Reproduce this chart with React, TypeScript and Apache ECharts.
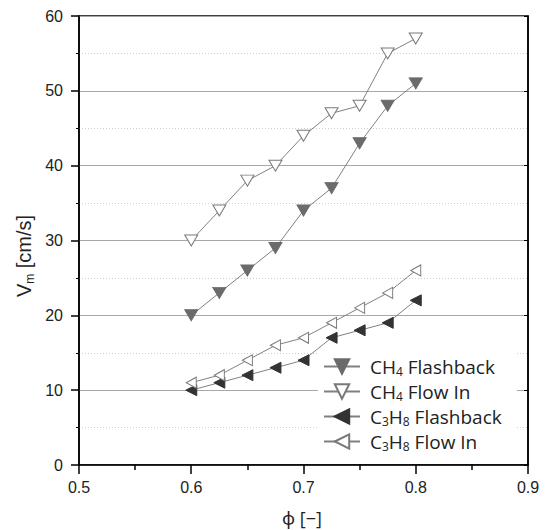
import React, { useEffect, useRef } from "react";
import * as echarts from "echarts";

const phi = [0.6, 0.625, 0.65, 0.675, 0.7, 0.725, 0.75, 0.775, 0.8];
const ch4Flashback = [20, 23, 26, 29, 34, 37, 43, 48, 51];
const ch4FlowIn = [30, 34, 38, 40, 44, 47, 48, 55, 57];
const c3h8Flashback = [10, 11, 12, 13, 14, 17, 18, 19, 22];
const c3h8FlowIn = [11, 12, 14, 16, 17, 19, 21, 23, 26];
const seriesNames = ["CH4 Flashback", "CH4 Flow In", "C3H8 Flashback", "C3H8 Flow In"];
const legendLabels: Record<string, string> = {
  "CH4 Flashback": "{t|CH}{s|4}{t| Flashback}",
  "CH4 Flow In": "{t|CH}{s|4}{t| Flow In}",
  "C3H8 Flashback": "{t|C}{s|3}{t|H}{s|8}{t| Flashback}",
  "C3H8 Flow In": "{t|C}{s|3}{t|H}{s|8}{t| Flow In}",
};

const pairs = (ys: number[]) => phi.map((x, i) => [x, ys[i]]);

export default function App() {
  const ref = useRef<HTMLDivElement>(null);
  useEffect(() => {
    if (!ref.current) return;
    const chart = echarts.init(ref.current, null, { renderer: "svg" });
    const lineStyle = { color: "#808080", width: 1 };
    const tickFont = { fontFamily: "Liberation Sans, Arial, sans-serif", fontSize: 16, color: "#222" };
    const legendFont = "Open Sans, Noto Sans, sans-serif";
    chart.setOption({
      animation: false,
      backgroundColor: "#fff",
      grid: { left: 79, right: 19, top: 16, bottom: 65, show: true, borderColor: "#000", borderWidth: 1.5, backgroundColor: "transparent" },
      xAxis: {
        type: "value",
        min: 0.5,
        max: 0.9,
        interval: 0.1,
        axisLine: { lineStyle: { color: "#000", width: 1.5 } },
        axisTick: { show: true, length: 9, lineStyle: { color: "#000", width: 1.5 } },
        minorTick: { show: true, splitNumber: 2, length: 5, lineStyle: { color: "#000", width: 1.5 } },
        splitLine: { show: false },
        axisLabel: { ...tickFont, margin: 14, formatter: (v: number) => v.toFixed(1) },
      },
      yAxis: [
        {
          type: "value",
          min: 0,
          max: 60,
          interval: 10,
          axisLine: { show: true, lineStyle: { color: "#000", width: 1.5 } },
          axisTick: { show: true, length: 8, lineStyle: { color: "#000", width: 1.5 } },
          minorTick: { show: true, splitNumber: 2, length: 3, lineStyle: { color: "#000", width: 1 } },
          splitLine: { show: true, lineStyle: { color: "#a8a8a8", width: 1 } },
          minorSplitLine: { show: true, lineStyle: { color: "#cfcfcf", width: 1, type: [1, 2] } },
          axisLabel: { ...tickFont, margin: 16 },
        },
        {
          type: "value",
          position: "right",
          min: 0,
          max: 60,
          interval: 10,
          axisLine: { show: true, lineStyle: { color: "#000", width: 1.5 } },
          axisTick: { show: true, inside: true, length: 4, lineStyle: { color: "#000", width: 1 } },
          axisLabel: { show: false },
          splitLine: { show: false },
        },
      ],
      legend: {
        orient: "vertical",
        left: 318,
        top: 352,
        padding: [5, 15, 5, 5],
        backgroundColor: "#fff",
        itemWidth: 36,
        itemHeight: 18,
        itemGap: 5,
        data: seriesNames,
        formatter: (name: string) => legendLabels[name],
        textStyle: {
          color: "#222",
          fontFamily: legendFont,
          fontSize: 19,
          padding: [0, 0, 0, 5],
          rich: {
            t: { fontFamily: legendFont, fontSize: 19, lineHeight: 21, color: "#222" },
            s: { fontFamily: legendFont, fontSize: 12, lineHeight: 12, verticalAlign: "bottom", color: "#222" },
          },
        },
      },
      graphic: [
        {
          type: "text",
          x: 24,
          y: 256,
          rotation: Math.PI / 2,
          style: {
            text: "{v|V}{s|m}{v| [cm/s]}",
            align: "center",
            verticalAlign: "middle",
            rich: {
              v: { fontFamily: "Liberation Sans, Arial, sans-serif", fontSize: 20, lineHeight: 24, fill: "#222" },
              s: { fontFamily: "Liberation Sans, Arial, sans-serif", fontSize: 12, lineHeight: 12, verticalAlign: "bottom", fill: "#222" },
            },
          },
        },
        {
          type: "text",
          x: 302,
          y: 518,
          style: {
            text: "ϕ [−]",
            align: "center",
            verticalAlign: "middle",
            fontFamily: legendFont,
            fontSize: 18,
            fill: "#222",
          },
        },
      ],
      series: [
        {
          name: seriesNames[0],
          type: "line",
          data: pairs(ch4Flashback),
          symbol: "triangle",
          symbolRotate: 180,
          symbolSize: [13, 11],
          lineStyle,
          itemStyle: { color: "#6b6b6b", borderColor: "#6b6b6b", borderWidth: 1 },
        },
        {
          name: seriesNames[1],
          type: "line",
          data: pairs(ch4FlowIn),
          symbol: "triangle",
          symbolRotate: 180,
          symbolSize: [13, 11],
          lineStyle,
          itemStyle: { color: "#fff", borderColor: "#7a7a7a", borderWidth: 1 },
        },
        {
          name: seriesNames[2],
          type: "line",
          data: pairs(c3h8Flashback),
          symbol: "triangle",
          symbolRotate: 90,
          symbolSize: [11, 11],
          lineStyle,
          itemStyle: { color: "#333", borderColor: "#333", borderWidth: 1 },
        },
        {
          name: seriesNames[3],
          type: "line",
          data: pairs(c3h8FlowIn),
          symbol: "triangle",
          symbolRotate: 90,
          symbolSize: [11, 10],
          lineStyle,
          itemStyle: { color: "#fff", borderColor: "#7a7a7a", borderWidth: 1 },
        },
      ],
    });
    return () => chart.dispose();
  }, []);
  return <div ref={ref} style={{ position: "fixed", left: 0, top: 0, width: 547, height: 530 }} />;
}
